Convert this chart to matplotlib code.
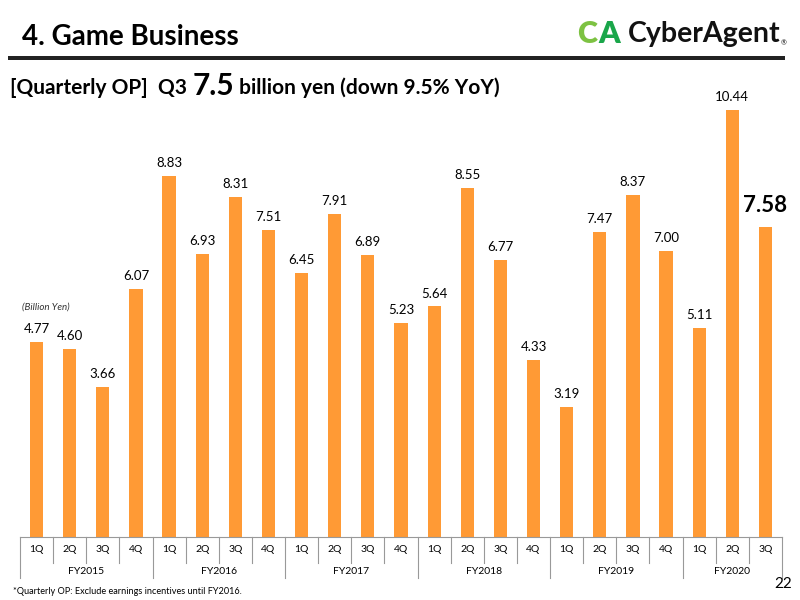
import matplotlib.pyplot as plt
from matplotlib.patches import Rectangle

# quarterly operating profit, billion yen
years = ['FY2015', 'FY2016', 'FY2017', 'FY2018', 'FY2019', 'FY2020']
quarters = ['1Q', '2Q', '3Q', '4Q']
values = [4.77, 4.60, 3.66, 6.07,
          8.83, 6.93, 8.31, 7.51,
          6.45, 7.91, 6.89, 5.23,
          5.64, 8.55, 6.77, 4.33,
          3.19, 7.47, 8.37, 7.00,
          5.11, 10.44, 7.58]

labels = [quarters[i % 4] for i in range(len(values))]
orange = '#FF9A35'
font = 'Lato'

fig = plt.figure(figsize=(8, 6), dpi=100)
W, H = 800, 600

# axes placed in pixel terms
left_px, right_px, base_px, top_px = 20, 782, 537, 67
ax = fig.add_axes([left_px / W, 1 - base_px / H, (right_px - left_px) / W, (base_px - top_px) / H])
ymax = 11.5
x = list(range(len(values)))
ax.bar(x, values, width=0.4, color=orange)
ax.set_xlim(-0.5, len(values) - 0.5)
ax.set_ylim(0, ymax)
for s in ['top', 'right', 'left']:
    ax.spines[s].set_visible(False)
ax.spines['bottom'].set_color('#999999')
ax.spines['bottom'].set_linewidth(0.8)
ax.set_yticks([])
ax.set_xticks([])

# value labels
for i, v in enumerate(values):
    if i == len(values) - 1:
        ax.annotate(f'{v:.2f}', (i, v), xytext=(0, 8), textcoords='offset points',
                    ha='center', va='bottom', fontsize=16, fontweight='bold', family=font)
    else:
        ax.annotate(f'{v:.2f}', (i, v), xytext=(0, 5), textcoords='offset points',
                    ha='center', va='bottom', fontsize=9.5, family=font)


def fy(px):
    # pixel y -> axes fraction
    return (base_px - px) / (base_px - top_px)


tr = ax.get_xaxis_transform()
# category axis: quarter separators and year separators
for i in range(len(values) + 1):
    xb = i - 0.5
    low = 578 if i % 4 == 0 or i == len(values) else 563
    ax.plot([xb, xb], [0, fy(low)], transform=tr, color='#999999', lw=0.8, clip_on=False)
for i, lab in enumerate(labels):
    ax.text(i, fy(550), lab, transform=tr, ha='center', va='center', fontsize=7.5, family=font)
for k, yr in enumerate(years):
    start = k * 4
    end = min(start + 3, len(values) - 1)
    ax.text((start + end) / 2, fy(571), yr, transform=tr, ha='center', va='center',
            fontsize=7.5, family=font)

ax.text(-0.45, fy(307), '(Billion Yen)', transform=tr, ha='left', va='center',
        fontsize=7, style='italic', family=font, color='#333333')

# header
fig.text(22 / W, 1 - 37 / H, '4. Game Business', fontsize=20, fontweight='bold',
         family=font, va='center', ha='left')
fig.add_artist(Rectangle((8 / W, 1 - 60 / H), 777 / W, 4 / H, transform=fig.transFigure,
                         color='#222222', lw=0))
fig.text(577 / W, 1 - 34 / H, 'C', fontsize=22, fontweight='heavy', color='#7DC242',
         family=font, va='center', ha='left')
fig.text(598 / W, 1 - 34 / H, 'A', fontsize=22, fontweight='heavy', color='#1AA64A',
         family=font, va='center', ha='left')
fig.text(628 / W, 1 - 34 / H, 'CyberAgent', fontsize=20.5, fontweight='bold', color='#111111',
         family=font, va='center', ha='left')
fig.text(781 / W, 1 - 43 / H, '®', fontsize=5, color='#111111', family=font,
         va='center', ha='left')

# subtitle, pieces placed one after another
renderer = fig.canvas.get_renderer()
pieces = [('[Quarterly OP]  Q3 ', 15, 88), ('7.5', 21.5, 86), (' billion yen (down 9.5% YoY)', 15, 88)]
xpos = 10
for txt, size, ypx in pieces:
    t = fig.text(xpos / W, 1 - ypx / H, txt, fontsize=size, fontweight='bold',
                 family=font, va='center', ha='left')
    bb = t.get_window_extent(renderer)
    xpos += bb.width

fig.text(13 / W, 1 - 591 / H, '*Quarterly OP: Exclude earnings incentives until FY2016.',
         fontsize=6.6, family=font, va='center', ha='left')
fig.text(792 / W, 1 - 584 / H, '22', fontsize=11, family=font, va='center', ha='right')

fig.savefig('out.png', dpi=100)
